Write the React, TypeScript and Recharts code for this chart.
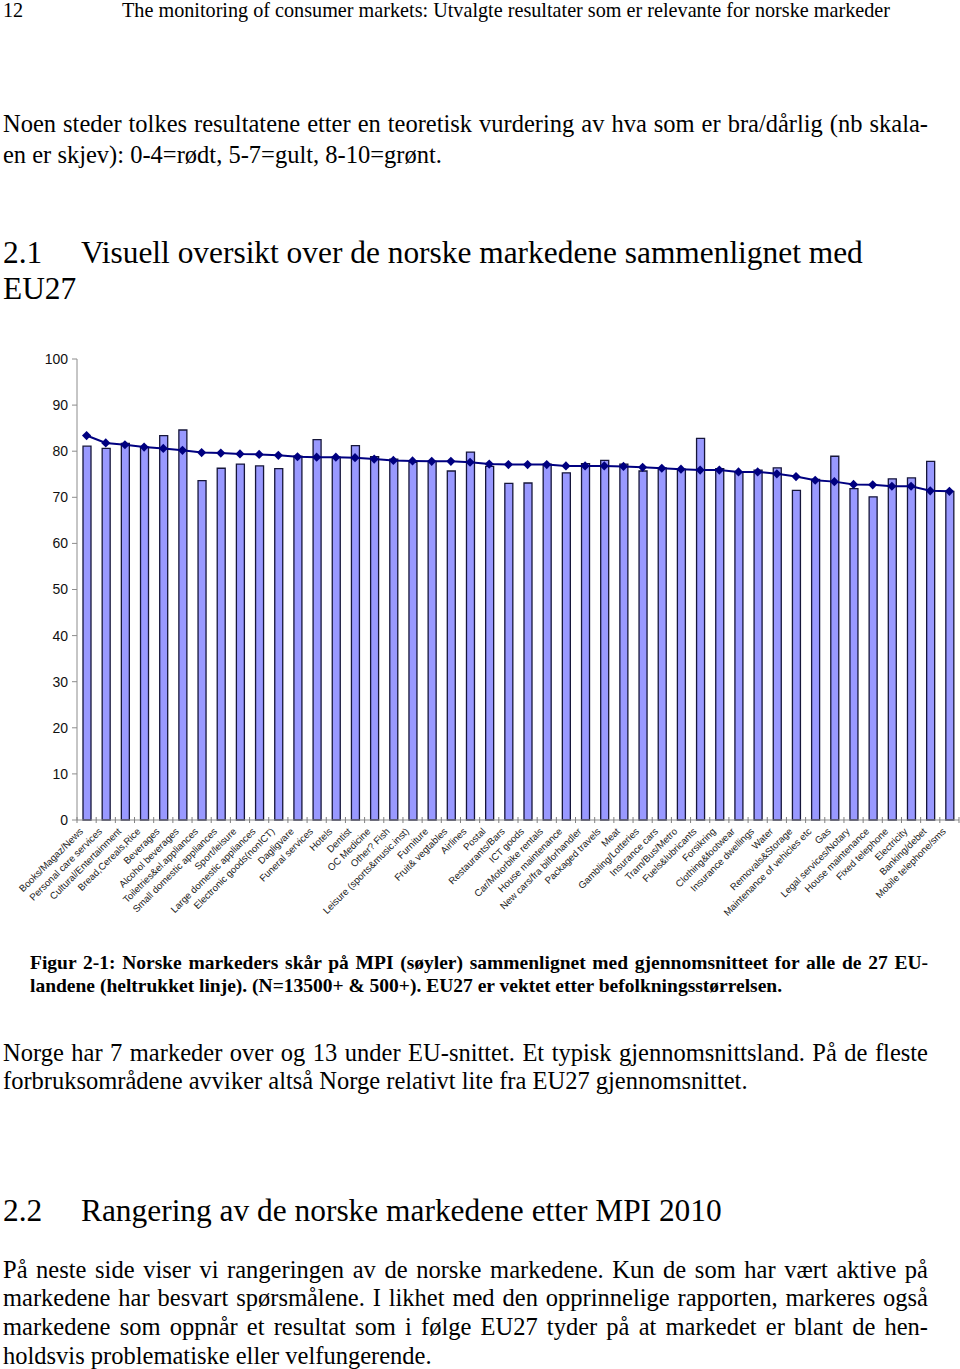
import React from 'react';
import { ComposedChart, Bar, Line, XAxis, YAxis } from 'recharts';

const categories = [
  'Books/Magaz/News', 'Personal care services', 'Cultural/Entertainment', 'Bread,Cereals,Rice',
  'Beverages', 'Alcohol beverages', 'Toiletries&el.appliances', 'Small domestic appliances',
  'Sport/leisure', 'Large domestic appliances', 'Electronic goods(nonICT)', 'Dagligvare',
  'Funeral services', 'Hotels', 'Dentist', 'OC Medicine', 'Other? Fish',
  'Leisure (sports&music.inst)', 'Furniture', 'Fruit& vegtables', 'Airlines', 'Postal',
  'Restaurants/Bars', 'ICT goods', 'Car/Motorbike rentals', 'House maintenance',
  'New cars/fra bilforhandler', 'Packaged travels', 'Meat', 'Gambling/Lotteries',
  'Insurance cars', 'Tram/Bus/Metro', 'Fuels&lubricants', 'Forsikring', 'Clothing&footwear',
  'Insurance dwellings', 'Water', 'Removals&Storage', 'Maintenance of vehicles etc', 'Gas',
  'Legal services/Notary', 'House maintenance ', 'Fixed telephone', 'Electricity',
  'Banking/debet', 'Mobile telephone/sms',
];

const norway = [
  81.1, 80.6, 81.7, 80.9, 83.4, 84.6, 73.6, 76.3, 77.2, 76.8,
  76.2, 78.9, 82.5, 78.7, 81.2, 78.8, 78.3, 77.6, 77.8, 75.7,
  79.8, 76.7, 73.0, 73.1, 77.2, 75.3, 77.3, 78.0, 77.2, 75.7,
  76.4, 76.1, 82.8, 76.2, 75.5, 75.9, 76.4, 71.5, 73.9, 78.9,
  71.9, 70.1, 74.0, 74.2, 77.8, 71.3,
];

const eu27 = [
  83.4, 81.8, 81.4, 80.9, 80.6, 80.2, 79.7, 79.6, 79.4, 79.3,
  79.1, 78.8, 78.7, 78.7, 78.6, 78.3, 78.0, 77.9, 77.8, 77.8,
  77.6, 77.2, 77.1, 77.1, 77.1, 76.8, 76.8, 76.8, 76.7, 76.5,
  76.3, 76.1, 75.9, 75.9, 75.5, 75.5, 75.1, 74.5, 73.7, 73.4,
  72.8, 72.7, 72.4, 72.4, 71.4, 71.3,
];

const yTicks = [0, 10, 20, 30, 40, 50, 60, 70, 80, 90, 100];

const data = categories.map((name, i) => ({ name, norway: norway[i], eu: eu27[i] }));

const CHART_W = 960;
const CHART_H = 610;
const CHART_TOP = 330;
const MARGIN = { top: 29, right: 1, left: 0, bottom: 0 };
const Y_W = 77;
const X_H = 120;
const PLOT_W = CHART_W - MARGIN.left - MARGIN.right - Y_W;
const HALF_BAND = PLOT_W / categories.length / 2;

const SANS = '"Liberation Sans", Arial, sans-serif';
const SERIF = '"Liberation Serif", "Times New Roman", serif';

function XTick(props: any) {
  const { x, y, payload, index } = props;
  const ax = x - 3;
  const ay = y + 12;
  return (
    <g>
      <line x1={x + HALF_BAND} x2={x + HALF_BAND} y1={y - 3} y2={y + 3} stroke="#808080" />
      {index === 0 && <line x1={x - HALF_BAND} x2={x - HALF_BAND} y1={y - 3} y2={y + 3} stroke="#808080" />}
      <text
        x={ax}
        y={ay}
        textAnchor="end"
        transform={`rotate(-45 ${ax} ${ay})`}
        fontSize={9.7}
        fontFamily={SANS}
        fill="#222"
      >
        {payload.value}
      </text>
    </g>
  );
}

function Diamond(props: any) {
  const { cx, cy, index } = props;
  const r = 4.6;
  return (
    <polygon
      key={`d-${index}`}
      points={`${cx},${cy - r} ${cx + r},${cy} ${cx},${cy + r} ${cx - r},${cy}`}
      fill="#000080"
    />
  );
}

type TL = {
  top: number;
  left: number;
  width?: number;
  size: number;
  bold?: boolean;
  justify?: boolean;
  children: React.ReactNode;
};

function TextLine({ top, left, width, size, bold, justify, children }: TL) {
  const L = Math.round(size * 1.3);
  return (
    <div
      style={{
        position: 'absolute',
        top: top - L / 2,
        left,
        width: width ?? 955 - left,
        height: L,
        lineHeight: `${L}px`,
        fontSize: size,
        fontFamily: SERIF,
        fontWeight: bold ? 'bold' : 'normal',
        color: '#000',
        whiteSpace: 'nowrap',
        textAlign: justify ? 'justify' : 'left',
        textAlignLast: justify ? 'justify' : 'left',
      } as React.CSSProperties}
    >
      {children}
    </div>
  );
}

export default function App() {
  const body = 24.5;
  const head = 31.4;
  const cap = 19.5;
  return (
    <div style={{ position: 'absolute', left: 0, top: 0, width: 960, height: 1369, background: '#fff', overflow: 'hidden' }}>
      <div style={{ position: 'absolute', left: 0, top: CHART_TOP }}>
        <ComposedChart width={CHART_W} height={CHART_H} data={data} margin={MARGIN}>
          <XAxis
            xAxisId="top"
            orientation="top"
            dataKey="name"
            height={0}
            tick={false}
            tickLine={false}
            axisLine={{ stroke: '#8c8c8c' }}
          />
          <YAxis
            yAxisId="right"
            orientation="right"
            width={0}
            domain={[0, 100]}
            tick={false}
            tickLine={false}
            axisLine={{ stroke: '#8c8c8c' }}
          />
          <XAxis
            dataKey="name"
            interval={0}
            height={X_H}
            tickLine={false}
            tickSize={0}
            tickMargin={0}
            axisLine={{ stroke: '#8c8c8c' }}
            tick={(p: any) => <XTick {...p} />}
          />
          <YAxis
            width={Y_W}
            domain={[0, 100]}
            ticks={yTicks}
            interval={0}
            tickSize={5}
            tickMargin={4}
            tickLine={{ stroke: '#8c8c8c' }}
            axisLine={{ stroke: '#8c8c8c' }}
            tick={{ fontSize: 14, fontFamily: SANS, fill: '#111' }}
          />
          <Bar
            dataKey="norway"
            fill="#9999ff"
            stroke="#16163a"
            strokeWidth={1.3}
            barSize={8}
            isAnimationActive={false}
          />
          <Line
            type="linear"
            dataKey="eu"
            stroke="#000080"
            strokeWidth={2}
            dot={(p: any) => <Diamond {...p} />}
            activeDot={false}
            isAnimationActive={false}
          />
        </ComposedChart>
      </div>

      <TextLine top={10} left={3} size={20.2}>12</TextLine>
      <TextLine top={10} left={122} size={20.2}>
        The monitoring of consumer markets: Utvalgte resultater som er relevante for norske markeder
      </TextLine>

      <TextLine top={124} left={3} width={925} size={body} justify>
        Noen steder tolkes resultatene etter en teoretisk vurdering av hva som er bra/dårlig (nb skala-
      </TextLine>
      <TextLine top={155} left={3} size={body}>
        en er skjev): 0-4=rødt, 5-7=gult, 8-10=grønt.
      </TextLine>

      <TextLine top={252} left={3} size={head}>2.1</TextLine>
      <TextLine top={252} left={81} size={head}>
        Visuell oversikt over de norske markedene sammenlignet med
      </TextLine>
      <TextLine top={288} left={3} size={head}>EU27</TextLine>

      <TextLine top={962} left={30} width={898} size={cap} bold justify>
        Figur 2-1: Norske markeders skår på MPI (søyler) sammenlignet med gjennomsnitteet for alle de 27 EU-
      </TextLine>
      <TextLine top={985} left={30} size={cap} bold>
        landene (heltrukket linje). (N=13500+ &amp; 500+). EU27 er vektet etter befolkningsstørrelsen.
      </TextLine>

      <TextLine top={1053} left={3} width={925} size={body} justify>
        Norge har 7 markeder over og 13 under EU-snittet. Et typisk gjennomsnittsland. På de fleste
      </TextLine>
      <TextLine top={1081} left={3} size={body}>
        forbruksområdene avviker altså Norge relativt lite fra EU27 gjennomsnittet.
      </TextLine>

      <TextLine top={1210} left={3} size={head}>2.2</TextLine>
      <TextLine top={1210} left={81} size={head}>
        Rangering av de norske markedene etter MPI 2010
      </TextLine>

      <TextLine top={1270} left={3} width={925} size={body} justify>
        På neste side viser vi rangeringen av de norske markedene. Kun de som har vært aktive på
      </TextLine>
      <TextLine top={1298} left={3} width={925} size={body} justify>
        markedene har besvart spørsmålene. I likhet med den opprinnelige rapporten, markeres også
      </TextLine>
      <TextLine top={1327} left={3} width={925} size={body} justify>
        markedene som oppnår et resultat som i følge EU27 tyder på at markedet er blant de hen-
      </TextLine>
      <TextLine top={1356} left={3} size={body}>
        holdsvis problematiske eller velfungerende.
      </TextLine>
    </div>
  );
}
